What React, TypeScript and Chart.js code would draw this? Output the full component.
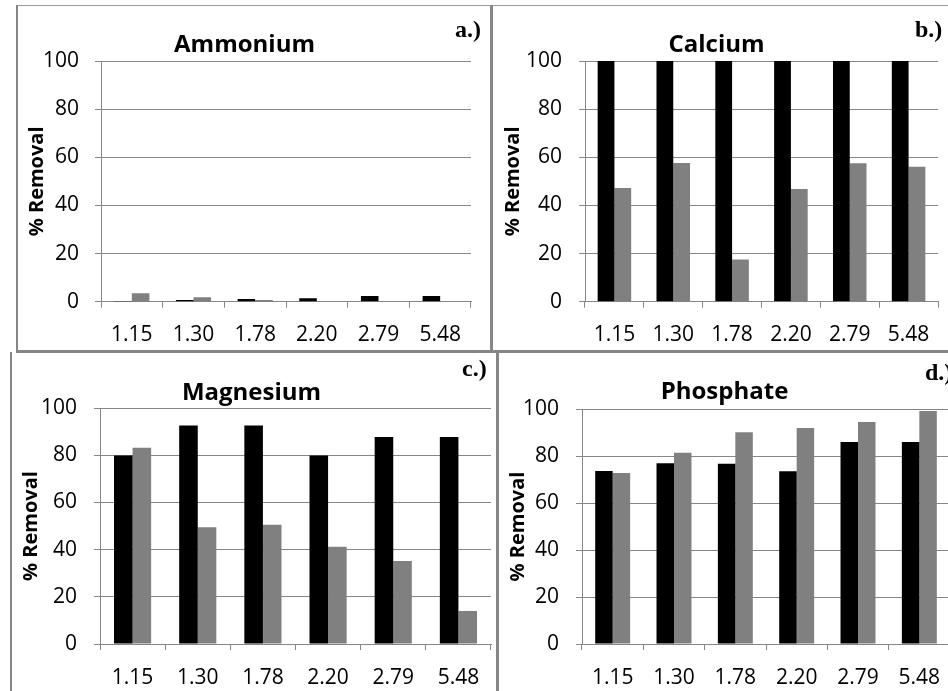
import React, { useEffect, useRef } from "react";
import { Chart, registerables } from "chart.js";
Chart.register(...registerables);

const categories = ["1.15", "1.30", "1.78", "2.20", "2.79", "5.48"];
const yTicks = [0, 20, 40, 60, 80, 100];

const ammoniumBlack = [0.3, 0.7, 1.1, 1.4, 2.4, 2.4];
const ammoniumGray = [3.5, 1.8, 0.7, 0, 0, 0];
const calciumBlack = [100, 100, 100, 100, 100, 100];
const calciumGray = [47.2, 57.6, 17.5, 46.8, 57.5, 56.1];
const magnesiumBlack = [79.9, 92.6, 92.6, 79.9, 87.7, 87.7];
const magnesiumGray = [83.2, 49.5, 50.5, 41.2, 35.2, 14.0];
const phosphateBlack = [73.6, 76.9, 76.7, 73.5, 86.0, 86.0];
const phosphateGray = [72.8, 81.4, 90.1, 91.9, 94.5, 99.1];

const FONT = "'Open Sans', 'Noto Sans', sans-serif";
const GRID = "#868686";
const BORDER = "#868686";

type PanelCfg = {
  title: string;
  tag: string;
  black: number[];
  gray: number[];
  left: number;
  top: number;
  width: number;
  height: number;
  yAxisWidth: number;
  yTitlePad: number;
  yTickPad: number;
  titlePadTop: number;
  titlePadBottom: number;
  xAxisHeight: number;
  padRight: number;
  tagLeft: number;
  tagTop: number;
};

const panels: PanelCfg[] = [
  {
    title: "Ammonium", tag: "a.)", black: ammoniumBlack, gray: ammoniumGray,
    left: 18, top: 6, width: 472, height: 344,
    yAxisWidth: 83, yTitlePad: 7, yTickPad: 16,
    titlePadTop: 24.6, titlePadBottom: 1.6, xAxisHeight: 48.3, padRight: 19,
    tagLeft: 455, tagTop: 17.4,
  },
  {
    title: "Calcium", tag: "b.)", black: calciumBlack, gray: calciumGray,
    left: 495, top: 6, width: 454, height: 344,
    yAxisWidth: 90, yTitlePad: 6, yTickPad: 17,
    titlePadTop: 24.6, titlePadBottom: 1.6, xAxisHeight: 48.3, padRight: 11,
    tagLeft: 915, tagTop: 17,
  },
  {
    title: "Magnesium", tag: "c.)", black: magnesiumBlack, gray: magnesiumGray,
    left: 12, top: 354, width: 484, height: 337,
    yAxisWidth: 88, yTitlePad: 7, yTickPad: 17,
    titlePadTop: 24.6, titlePadBottom: 0.6, xAxisHeight: 47, padRight: 5,
    tagLeft: 462, tagTop: 356,
  },
  {
    title: "Phosphate", tag: "d.)", black: phosphateBlack, gray: phosphateGray,
    left: 499, top: 354, width: 462, height: 337,
    yAxisWidth: 83, yTitlePad: 7, yTickPad: 17,
    titlePadTop: 23.6, titlePadBottom: 2.6, xAxisHeight: 47, padRight: 11,
    tagLeft: 925, tagTop: 360.4,
  },
];

function Panel({ cfg }: { cfg: PanelCfg }) {
  const ref = useRef<HTMLCanvasElement | null>(null);
  useEffect(() => {
    if (!ref.current) return;
    const chart = new Chart(ref.current, {
      type: "bar",
      data: {
        labels: categories,
        datasets: [
          { data: cfg.black, backgroundColor: "#000000", borderWidth: 0, categoryPercentage: 0.57, barPercentage: 1 },
          { data: cfg.gray, backgroundColor: "#808080", borderWidth: 0, categoryPercentage: 0.57, barPercentage: 1 },
        ],
      },
      options: {
        animation: false,
        responsive: false,
        devicePixelRatio: 1,
        layout: { padding: { left: 0, top: 0, right: cfg.padRight, bottom: 0 } },
        plugins: {
          legend: { display: false },
          tooltip: { enabled: false },
          title: {
            display: true,
            text: cfg.title,
            color: "#000",
            font: { family: FONT, size: 24, weight: "bold", lineHeight: 1.2 },
            padding: { top: cfg.titlePadTop, bottom: cfg.titlePadBottom },
          },
        },
        scales: {
          x: {
            grid: { display: true, drawOnChartArea: false, drawTicks: true, tickLength: 6, color: GRID, offset: true, lineWidth: 1 },
            border: { display: true, color: GRID, width: 1 },
            ticks: { color: "#000", font: { family: FONT, size: 21 }, padding: 15, maxRotation: 0, autoSkip: false },
            afterFit: (s: any) => { s.height = cfg.xAxisHeight; },
          },
          y: {
            min: yTicks[0],
            max: yTicks[yTicks.length - 1],
            afterBuildTicks: (s: any) => { s.ticks = yTicks.map((v) => ({ value: v })); },
            grid: { color: GRID, tickLength: 6, lineWidth: 1 },
            border: { display: true, color: GRID, width: 1 },
            ticks: { color: "#000", font: { family: FONT, size: 21 }, padding: cfg.yTickPad },
            title: {
              display: true,
              text: "% Removal",
              color: "#000",
              font: { family: FONT, size: 20, weight: "bold", lineHeight: 1.2 },
              padding: { top: cfg.yTitlePad, bottom: 0 },
            },
            afterFit: (s: any) => { s.width = cfg.yAxisWidth; },
          },
        },
      } as any,
    });
    return () => chart.destroy();
  }, [cfg]);
  return (
    <>
      <canvas
        ref={ref}
        width={cfg.width}
        height={cfg.height}
        style={{ position: "absolute", left: cfg.left, top: cfg.top, width: cfg.width, height: cfg.height }}
      />
      <div
        style={{
          position: "absolute",
          left: cfg.tagLeft,
          top: cfg.tagTop,
          fontFamily: "'Liberation Serif', 'Times New Roman', serif",
          fontWeight: "bold",
          fontSize: 24,
          lineHeight: 1,
          color: "#000",
          whiteSpace: "nowrap",
        }}
      >
        {cfg.tag}
      </div>
    </>
  );
}

function Line({ x, y, w, h, c = BORDER }: { x: number; y: number; w: number; h: number; c?: string }) {
  return <div style={{ position: "absolute", left: x, top: y, width: w, height: h, background: c }} />;
}

export default function App() {
  return (
    <div style={{ position: "absolute", left: 0, top: 0, width: 948, height: 691, overflow: "hidden", background: "#fff" }}>
      {panels.map((p) => (
        <Panel key={p.title} cfg={p} />
      ))}
      <Line x={16} y={5} w={932} h={1} c="#9a9a9a" />
      <Line x={16} y={5} w={2} h={347} />
      <Line x={490} y={5} w={3} h={347} />
      <Line x={16} y={350} w={932} h={3} />
      <Line x={10} y={352} w={2} h={339} />
      <Line x={496} y={352} w={3} h={339} />
    </div>
  );
}
